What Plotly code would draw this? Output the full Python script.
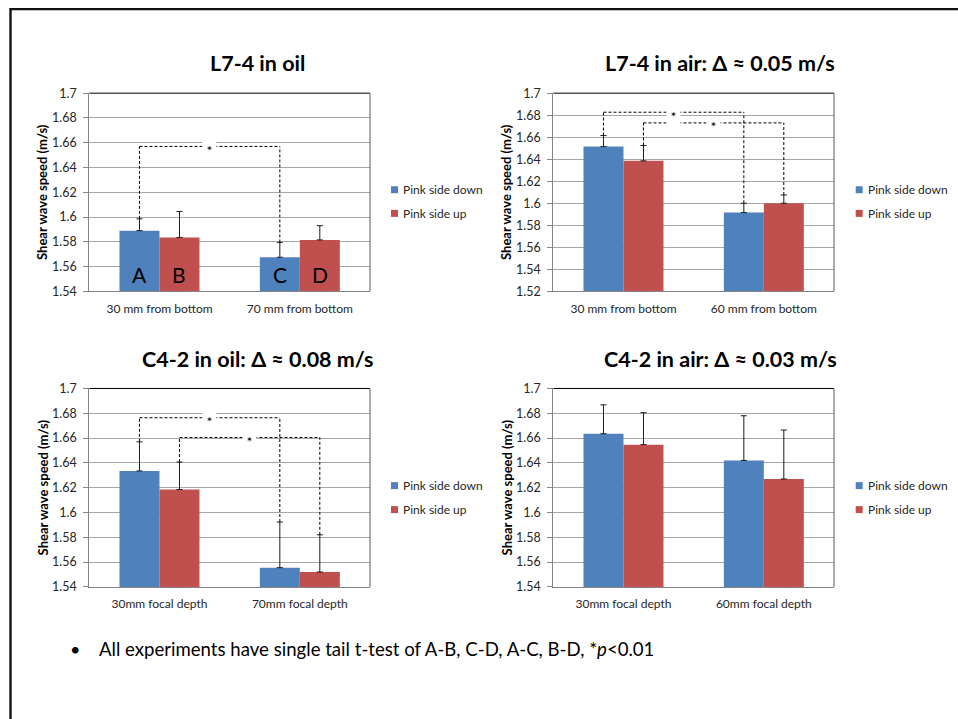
import plotly.graph_objects as go

# ---------------- data ----------------
series_names = ["Pink side down", "Pink side up"]
series_colors = ["#4F81BD", "#C0504D"]

titles = ["L7-4 in oil", "L7-4 in air: Δ ≈ 0.05 m/s",
          "C4-2 in oil: Δ ≈ 0.08 m/s", "C4-2 in air: Δ ≈ 0.03 m/s"]

cats_1 = ["30 mm from bottom", "70 mm from bottom"]
cats_2 = ["30 mm from bottom", "60 mm from bottom"]
cats_3 = ["30mm focal depth", "70mm focal depth"]
cats_4 = ["30mm focal depth", "60mm focal depth"]

down_1 = [1.589, 1.5675]
up_1 = [1.5835, 1.5815]
down_err_1 = [0.0095, 0.012]
up_err_1 = [0.021, 0.0115]

down_2 = [1.6515, 1.5915]
up_2 = [1.6385, 1.6000]
down_err_2 = [0.0100, 0.0085]
up_err_2 = [0.0140, 0.0075]

down_3 = [1.6335, 1.5555]
up_3 = [1.6185, 1.5520]
down_err_3 = [0.0235, 0.0368]
up_err_3 = [0.0222, 0.0300]

down_4 = [1.6635, 1.6420]
up_4 = [1.6547, 1.6270]
down_err_4 = [0.0233, 0.0360]
up_err_4 = [0.0258, 0.0395]

y_ranges = [[1.54, 1.70], [1.52, 1.70], [1.54, 1.70], [1.54, 1.70]]

# significance brackets: (series index, bracket height); spans category 0 -> 1
brackets_1 = [(0, 1.657)]
brackets_2 = [(0, 1.6827), (1, 1.673)]
brackets_3 = [(0, 1.6764), (1, 1.6605)]
brackets_4 = []

bar_letters = [["A", "C"], ["B", "D"]]
letter_level = 1.5537

footnote = "All experiments have single tail t-test of A-B, C-D, A-C, B-D, *<i>p</i>&lt;0.01"

# ---------------- layout geometry (pixels, in slide coordinates) ----------------
W, H = 958, 719
V_OFF, V_SCALE = 7.0, 0.9805   # vertical calibration of the viewer
FONT = "Lato, Carlito, 'Open Sans', sans-serif"
BARGAP = 0.43

panels = [
    dict(cats=cats_1, vals=[down_1, up_1], errs=[down_err_1, up_err_1], br=brackets_1,
         px=(89.3, 370.0), py=(92.3, 290.7), title_xy=(257, 62), ytitle_x=42.7,
         leg_x=391.0, leg_y=(189.0, 212.7)),
    dict(cats=cats_2, vals=[down_2, up_2], errs=[down_err_2, up_err_2], br=brackets_2,
         px=(553.3, 834.0), py=(92.3, 290.7), title_xy=(720, 62), ytitle_x=506.7,
         leg_x=855.7, leg_y=(189.0, 212.7)),
    dict(cats=cats_3, vals=[down_3, up_3], errs=[down_err_3, up_err_3], br=brackets_3,
         px=(89.3, 370.0), py=(388.0, 586.7), title_xy=(257, 358), ytitle_x=42.7,
         leg_x=391.0, leg_y=(485.3, 509.3)),
    dict(cats=cats_4, vals=[down_4, up_4], errs=[down_err_4, up_err_4], br=brackets_4,
         px=(553.3, 834.0), py=(388.0, 586.7), title_xy=(720, 358), ytitle_x=506.7,
         leg_x=855.7, leg_y=(485.3, 509.3)),
]


def fx(p):
    return p / W


def fy(p):
    return 1 - ((p - V_OFF) / V_SCALE) / H


fig = go.Figure()
shapes = []
annotations = []
layout_axes = {}

bar_w = (1 - BARGAP) / 2
offsets = [-bar_w / 2, bar_w / 2]

for i, pnl in enumerate(panels):
    n = i + 1
    xa = "x" if n == 1 else f"x{n}"
    ya = "y" if n == 1 else f"y{n}"
    xkey = "xaxis" if n == 1 else f"xaxis{n}"
    ykey = "yaxis" if n == 1 else f"yaxis{n}"

    for s in range(2):
        fig.add_trace(go.Bar(
            x=pnl["cats"], y=pnl["vals"][s], name=series_names[s],
            marker=dict(color=series_colors[s], line=dict(width=0)),
            error_y=dict(type="data", symmetric=False, array=pnl["errs"][s],
                         arrayminus=[0] * len(pnl["vals"][s]),
                         color="#1a1a1a", thickness=1, width=3),
            xaxis=xa, yaxis=ya, showlegend=False,
        ))

    layout_axes[xkey] = dict(
        domain=[fx(pnl["px"][0]), fx(pnl["px"][1])], anchor=ya,
        type="category", range=[-0.5, len(pnl["cats"]) - 0.5],
        showline=True, linecolor="#868686", linewidth=1, showgrid=False,
        ticks="", ticklabelstandoff=6, fixedrange=True,
        tickfont=dict(family=FONT, size=12, color="#262626"),
    )
    layout_axes[ykey] = dict(
        domain=[fy(pnl["py"][1]), fy(pnl["py"][0])], anchor=xa,
        range=y_ranges[i], dtick=0.02, tick0=y_ranges[i][0],
        showline=True, linecolor="#868686", linewidth=1,
        ticks="outside", ticklen=5, tickcolor="#868686",
        showgrid=True, gridcolor="#a6a6a6", gridwidth=1, zeroline=False,
        ticklabelstandoff=4, fixedrange=True,
        tickfont=dict(family=FONT, size=12.5, color="#262626"),
    )

    # plot-area border (top & right)
    shapes.append(dict(type="line", xref=f"{xa} domain", yref=f"{ya} domain",
                       x0=0, x1=1, y0=1, y1=1, line=dict(color="#000000", width=1)))
    shapes.append(dict(type="line", xref=f"{xa} domain", yref=f"{ya} domain",
                       x0=1, x1=1, y0=0, y1=1, line=dict(color="#5a5a5a", width=1)))

    # significance brackets
    for (s, h) in pnl["br"]:
        xl = 0 + offsets[s]
        xr = 1 + offsets[s]
        top_l = pnl["vals"][s][0] + pnl["errs"][s][0]
        top_r = pnl["vals"][s][1] + pnl["errs"][s][1]
        dash = dict(color="#000000", width=1, dash="3px,2px")
        shapes.append(dict(type="line", xref=xa, yref=ya, x0=xl, x1=xr, y0=h, y1=h, line=dash))
        shapes.append(dict(type="line", xref=xa, yref=ya, x0=xl, x1=xl, y0=top_l, y1=h, line=dash))
        shapes.append(dict(type="line", xref=xa, yref=ya, x0=xr, x1=xr, y0=top_r, y1=h, line=dash))
        annotations.append(dict(xref=xa, yref=ya, x=(xl + xr) / 2, y=h, text="&nbsp;*&nbsp;",
                                showarrow=False, bgcolor="#ffffff", borderpad=0, yshift=-4,
                                font=dict(family=FONT, size=14, color="#000000")))

    # title
    annotations.append(dict(xref="paper", yref="paper", x=fx(pnl["title_xy"][0]),
                            y=fy(pnl["title_xy"][1]), text=f"<b>{titles[i]}</b>",
                            showarrow=False, xanchor="center", yanchor="middle",
                            font=dict(family=FONT, size=21.5, color="#000000")))
    # y-axis title
    annotations.append(dict(xref="paper", yref="paper", x=fx(pnl["ytitle_x"]),
                            y=fy((pnl["py"][0] + pnl["py"][1]) / 2),
                            text="<b>Shear wave speed (m/s)</b>", textangle=-90,
                            showarrow=False, xanchor="center", yanchor="middle",
                            font=dict(family=FONT, size=13, color="#000000")))
    # legend
    for s in range(2):
        ly = pnl["leg_y"][s]
        shapes.append(dict(type="rect", xref="paper", yref="paper",
                           x0=fx(pnl["leg_x"]), x1=fx(pnl["leg_x"] + 7),
                           y0=fy(ly + 3.5), y1=fy(ly - 3.5),
                           fillcolor=series_colors[s], line=dict(width=0)))
        annotations.append(dict(xref="paper", yref="paper", x=fx(pnl["leg_x"] + 10),
                                y=fy(ly), text=series_names[s], showarrow=False,
                                xanchor="left", yanchor="middle",
                                font=dict(family=FONT, size=12, color="#262626")))

# letters A-D in first panel
for s in range(2):
    for c in range(2):
        annotations.append(dict(xref="x", yref="y", x=c + offsets[s], y=letter_level,
                                text=bar_letters[s][c], showarrow=False,
                                font=dict(family=FONT, size=21, color="#000000")))

# footnote
annotations.append(dict(xref="paper", yref="paper", x=fx(75), y=fy(649), text="•",
                        showarrow=False, xanchor="center", yanchor="middle",
                        font=dict(family=FONT, size=18, color="#000000")))
annotations.append(dict(xref="paper", yref="paper", x=fx(97), y=fy(649), text=footnote,
                        showarrow=False, xanchor="left", yanchor="middle",
                        font=dict(family=FONT, size=18.6, color="#000000")))

# slide border (top edge kept just inside the page)
shapes.append(dict(type="rect", xref="paper", yref="paper",
                   x0=fx(10.5), x1=fx(975), y0=-0.05, y1=1 - 1.2 / H,
                   line=dict(color="#111111", width=2.4), fillcolor="rgba(0,0,0,0)"))

fig.update_layout(
    width=W, height=H, margin=dict(l=0, r=0, t=0, b=0),
    paper_bgcolor="#ffffff", plot_bgcolor="#ffffff",
    barmode="group", bargap=BARGAP, bargroupgap=0,
    showlegend=False, shapes=shapes, annotations=annotations,
    font=dict(family=FONT),
    **layout_axes,
)

POST = (
    "document.body.style.margin='0px';"
    "document.body.style.overflow='hidden';"
)

fig.write_html("out.html", config={"displayModeBar": False}, post_script=POST)
